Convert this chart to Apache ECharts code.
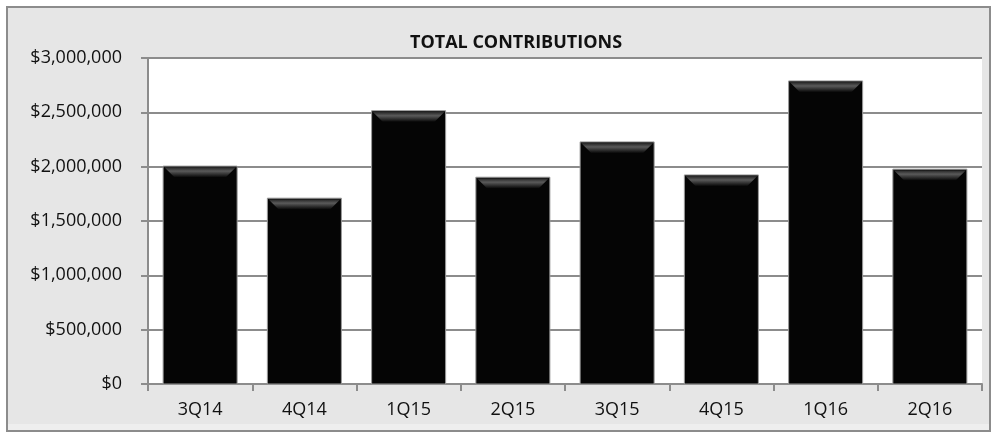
<!DOCTYPE html>
<html><head><meta charset="utf-8">
<script src="https://cdn.jsdelivr.net/npm/echarts@6/dist/echarts.min.js"></script>
<style>html,body{margin:0;padding:0;background:#fff}#c{width:997px;height:437px}</style>
</head><body><div id="c"></div>
<script>
const categories = ['3Q14','4Q14','1Q15','2Q15','3Q15','4Q15','1Q16','2Q16'];
const contributions = [2005000, 1710000, 2515000, 1903000, 2228000, 1924000, 2789000, 1977000];
const yTicks = [0, 500000, 1000000, 1500000, 2000000, 2500000, 3000000];
const titleText = 'TOTAL CONTRIBUTIONS';

const fmt = v => '$' + v.toString().replace(/\B(?=(\d{3})+(?!\d))/g, ',');
const chart = echarts.init(document.getElementById('c'));
const FONT = 'Open Sans';
chart.setOption({
  backgroundColor: '#ffffff',
  animation: false,
  graphic: [{
    type: 'rect', z: -10, silent: true,
    shape: { x: 7, y: 7, width: 983, height: 424 },
    style: { fill: '#e6e6e6', stroke: '#8c8c8c', lineWidth: 2 }
  }, {
    type: 'rect', z: -9, silent: true,
    shape: { x: 8, y: 424, width: 981, height: 6 },
    style: { fill: '#eeeeee' }
  }],
  title: {
    text: titleText, left: 511, top: 29, textAlign: 'center',
    textStyle: { fontFamily: FONT, fontWeight: 'bold', fontSize: 18, color: '#111' }
  },
  grid: { left: 148, right: 15, top: 58, bottom: 53, show: true, backgroundColor: '#ffffff', borderWidth: 0 },
  xAxis: {
    type: 'category', data: categories,
    axisLine: { show: true, lineStyle: { color: '#8c8c8c', width: 2 } },
    axisTick: { show: true, length: 7, lineStyle: { color: '#8c8c8c', width: 2 } },
    axisLabel: { fontFamily: FONT, fontSize: 18, color: '#111', margin: 17 }
  },
  yAxis: {
    type: 'value', min: 0, max: 3000000, interval: 500000,
    axisLine: { show: true, lineStyle: { color: '#8c8c8c', width: 2 } },
    axisTick: { show: true, length: 7, lineStyle: { color: '#8c8c8c', width: 2 } },
    splitLine: { show: true, lineStyle: { color: '#8c8c8c', width: 2 } },
    axisLabel: { fontFamily: FONT, fontSize: 18, color: '#111', margin: 26,
      formatter: v => yTicks.includes(v) ? fmt(v) : '' }
  },
  series: [{
    type: 'custom',
    data: contributions.map((v, i) => [i, v]),
    renderItem: function (params, api) {
      const i = api.value(0), v = api.value(1);
      const top = api.coord([i, v]);
      const base = api.coord([i, 0]);
      const bw = api.size([1, 0])[0] * 0.71;
      const x0 = top[0] - bw / 2, x1 = top[0] + bw / 2;
      const y0 = top[1], y1 = base[1];
      const b = 11;
      return {
        type: 'group',
        children: [{
          type: 'rect',
          shape: { x: x0, y: y0, width: bw, height: y1 - y0 },
          style: { fill: '#050505', stroke: '#9a9a9a', lineWidth: 1 }
        }, {
          type: 'polygon',
          shape: { points: [[x0 + 1, y0 + 1], [x1 - 1, y0 + 1], [x1 - b, y0 + b], [x0 + b, y0 + b]] },
          style: { fill: new echarts.graphic.LinearGradient(0, 0, 0, 1, [
            { offset: 0, color: '#222' }, { offset: 0.4, color: '#5a5a5a' }, { offset: 1, color: '#0a0a0a' }]) }
        }]
      };
    }
  }]
});
</script></body></html>
